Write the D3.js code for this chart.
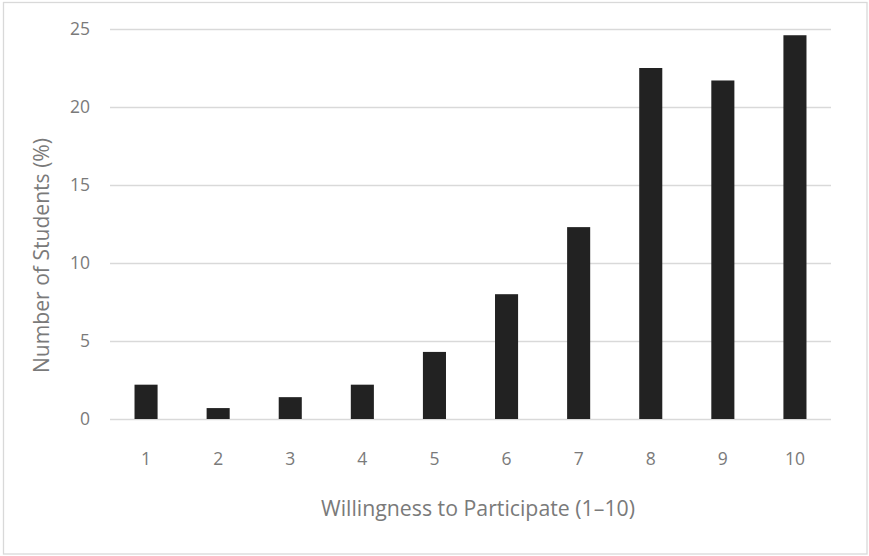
<!DOCTYPE html>
<html><head><meta charset="utf-8">
<script src="https://cdn.jsdelivr.net/npm/d3@7"></script>
<style>body{margin:0;background:#fff}</style>
</head><body>
<svg id="c" width="869" height="556"></svg>
<script>
const categories = ["1","2","3","4","5","6","7","8","9","10"];
const values = [2.2, 0.7, 1.4, 2.2, 4.3, 8.0, 12.3, 22.5, 21.7, 24.6];
const yTicks = [0, 5, 10, 15, 20, 25];
const xTitle = "Willingness to Participate (1–10)";
const yTitle = "Number of Students (%)";

(function(){
const svg = d3.select("#c");
const font = "'Open Sans', sans-serif";
const textColor = "#7a7a7a";
svg.append("rect").attr("x",3.5).attr("y",2.5).attr("width",863.5).attr("height",551.5)
  .attr("fill","#fff").attr("stroke","#d9d9d9").attr("stroke-width",1.3);

const pl = 110, pr = 831, pt = 29, pb = 419;
const x = d3.scaleBand().domain(categories).range([pl, pr]).paddingInner(0.68).paddingOuter(0.34);
const y = d3.scaleLinear().domain([0, 25]).range([pb, pt]);

const yAxis = d3.axisLeft(y).tickValues(yTicks).tickSize(-(pr-pl)).tickPadding(20);
const gy = svg.append("g").attr("transform",`translate(${pl},0)`).call(yAxis);
gy.select(".domain").remove();
gy.selectAll(".tick line").attr("stroke","#d9d9d9").attr("stroke-width",1.3);
gy.selectAll(".tick text").attr("fill",textColor).attr("font-family",font).attr("font-size",17.5);

svg.append("g").selectAll("rect").data(values).join("rect")
  .attr("x",(d,i)=>x(categories[i])).attr("width",x.bandwidth())
  .attr("y",d=>y(d)).attr("height",d=>y(0)-y(d)).attr("fill","#222222");

const xAxis = d3.axisBottom(x).tickSize(0).tickPadding(34);
const gx = svg.append("g").attr("transform",`translate(0,${pb})`).call(xAxis);
gx.select(".domain").remove();
gx.selectAll(".tick text").attr("fill",textColor).attr("font-family",font).attr("font-size",17.5);

svg.append("text").attr("x",478).attr("y",516).attr("text-anchor","middle")
  .attr("fill",textColor).attr("font-family",font).attr("font-size",21)
  .attr("textLength",314).attr("lengthAdjust","spacingAndGlyphs").text(xTitle);
svg.append("text").attr("transform",`translate(49,255.5) rotate(-90)`).attr("text-anchor","middle")
  .attr("fill",textColor).attr("font-family",font).attr("font-size",21)
  .attr("textLength",235).attr("lengthAdjust","spacingAndGlyphs").text(yTitle);
})();
</script>
</body></html>
